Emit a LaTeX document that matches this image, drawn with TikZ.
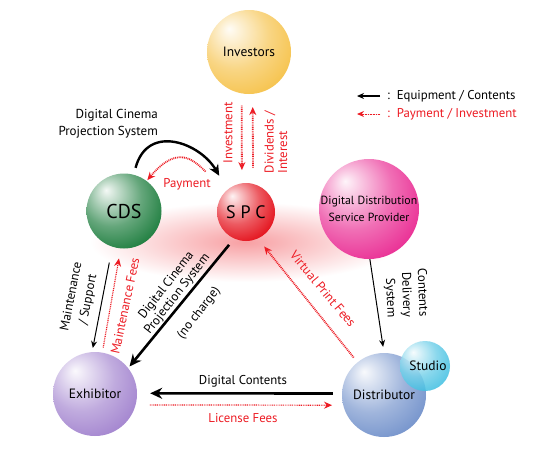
\documentclass[tikz,border=0pt]{standalone}
\usepackage{fontspec}
\setmainfont{PT Sans}
\usetikzlibrary{arrows.meta}

\definecolor{payred}{RGB}{237,28,36}
\definecolor{invcol}{RGB}{246,196,80}
\definecolor{cdscol}{RGB}{34,128,66}
\definecolor{spccol}{RGB}{228,20,30}
\definecolor{ddspcol}{RGB}{234,50,150}
\definecolor{exhcol}{RGB}{165,135,208}
\definecolor{distcol}{RGB}{120,150,205}
\definecolor{studiocol}{RGB}{60,190,225}

% sphere look, recoloured through sphcol
\colorlet{sphcol}{gray}
\pgfdeclareradialshading[sphcol]{sphere}{\pgfpoint{-12bp}{14bp}}{%
  color(0bp)=(sphcol!5!white); color(6bp)=(sphcol!25!white);
  color(20bp)=(sphcol!70!white); color(34bp)=(sphcol);
  color(52bp)=(sphcol!90!black); color(66bp)=(sphcol!80!black)}

\tikzset{
  sphere/.style={circle, inner sep=0pt, shading=sphere,
    font=\fontsize{13.5}{15}\selectfont},
  sphere color/.code={\colorlet{sphcol}{#1}},
  lbl/.style={font=\fontsize{12.8}{15}\selectfont, inner sep=0pt},
  paylbl/.style={lbl, text=payred},
  eqarrow/.style={-{Stealth[length=7pt,width=6pt]}, line width=1pt},
  eqthick/.style={-{Stealth[length=12pt,width=11pt]}, line width=2.6pt},
  paydots/.style={-{Stealth[length=8pt,width=7pt]}, draw=payred,
    line width=1.8pt, dash pattern=on 0.9pt off 0.9pt},
}

\begin{document}
\begin{tikzpicture}[x=1pt,y=-1pt]
    \useasboundingbox (0,0) rectangle (540,469);
    \fill[white] (0,0) rectangle (540,469);

    % glow under the SPC
    \shade[inner color=payred!42, outer color=white] (245,242) ellipse [x radius=155pt, y radius=40pt];

    % spheres
    \node[sphere, sphere color=invcol, minimum size=84pt] (investors) at (249,52) {Investors};
    \node[sphere, sphere color=cdscol, minimum size=75pt, font=\fontsize{20}{22}\selectfont] (cds) at (124,211) {CDS};
    \node[sphere, sphere color=spccol, minimum size=58pt, font=\fontsize{18}{20}\selectfont] (spc) at (246,212) {S P C};
    \node[sphere, sphere color=ddspcol, minimum size=100pt, align=center, font=\fontsize{11.8}{17}\selectfont] (ddsp) at (369,209) {Digital Distribution\\Service Provider};
    \node[sphere, sphere color=exhcol, minimum size=84pt] (exh) at (95,394) {Exhibitor};
    \node[sphere, sphere color=distcol, minimum size=84pt] (dist) at (384,395) {};
    \node[sphere, sphere color=studiocol, minimum size=50pt, fill opacity=0.85, text opacity=1] (studio) at (425,366) {\hspace{6pt}Studio};
    \node[lbl, font=\fontsize{13.5}{15}\selectfont] (distname) at (dist) {Distributor};

    % investors <-> SPC
    \draw[paydots, shorten <=12pt, shorten >=13pt] (investors.260) -- (spc.98);
    \draw[paydots, shorten <=16pt, shorten >=13pt] (spc.76) -- (investors.275);
    \node[paylbl, rotate=90] (investlbl) at (228,133) {Investment};
    \node[paylbl, rotate=90, align=left, font=\fontsize{12.8}{13.5}\selectfont] (dividlbl) at (276,142) {Dividends /\\Interest};

    % CDS <-> SPC
    \draw[-{Stealth[length=11pt,width=10pt]}, line width=2.4pt, shorten <=7pt, shorten >=16pt] (cds.75) to[out=75, in=120, looseness=1.45] (spc.130);
    \draw[paydots, shorten <=28pt, shorten >=1pt] (spc.135) to[out=135, in=50, looseness=1.5] (cds.53);
    \node[lbl, anchor=east, align=right, font=\fontsize{13}{17}\selectfont] (projlbl) at (158,124) {Digital Cinema\\Projection System};
    \node[paylbl] (paylabel) at (187,184) {Payment};

    % CDS <-> exhibitor
    \draw[eqarrow, shorten <=16pt, shorten >=4pt] (cds.252) -- (exh.94);
    \draw[paydots, line width=1.2pt, shorten <=5pt, shorten >=10pt] (exh.80) -- (cds.265);
    \node[lbl, rotate=79, align=center, font=\fontsize{12.8}{17}\selectfont] (maintlbl) at (80,298) {Maintenance\\/ Support};
    \node[paylbl, rotate=78] (mfeelbl) at (125,306) {Maintenance Fees};

    % SPC -> exhibitor
    \draw[eqthick, shorten <=8pt, shorten >=2pt] (spc.246) -- (exh.38);
    \node[lbl, rotate=52, align=center, font=\fontsize{12.8}{14}\selectfont] (nochargelbl) at (172,290) {Digital Cinema\\Projection System};
    \node[lbl, rotate=52] (nocharge) at (199,313) {(no charge)};

    % distributor -> SPC
    \draw[paydots, shorten <=6pt, shorten >=10pt] (dist.129) -- (spc.294);
    \node[paylbl, rotate=-50] (vpflbl) at (323,289) {Virtual Print Fees};

    % DDSP -> distributor
    \draw[eqarrow, shorten >=6pt] (ddsp.271) -- (dist.90);
    \node[lbl, rotate=-88, align=right, font=\fontsize{12.8}{16}\selectfont] (cdslbl) at (406,293) {Contents\\Delivery\\System};

    % distributor <-> exhibitor
    \draw[eqthick, shorten <=9pt, shorten >=13pt] (dist.178) -- (exh.1);
    \draw[paydots, line width=1.2pt, shorten <=14pt, shorten >=11pt] (exh.-15) -- (dist.194);
    \node[lbl] (dclbl) at (243,381) {Digital Contents};
    \node[paylbl] (lfeelbl) at (243,418) {License Fees};

    % legend
    \coordinate (lgeqtail) at (380,96);
    \coordinate (lgeqhead) at (357,96);
    \coordinate (lgpaytail) at (380,114);
    \coordinate (lgpayhead) at (357,114);
    \draw[-{Stealth[length=7pt,width=6pt]}, line width=1.2pt] (lgeqtail) -- (lgeqhead);
    \draw[-{Stealth[length=7pt,width=6pt]}, draw=payred, fill=payred, line width=1pt, dash pattern=on 0.8pt off 0.8pt] (lgpaytail) -- (lgpayhead);
    \node[lbl, anchor=west] (lgeqlbl) at (387,96) {:\ \ Equipment / Contents};
    \node[paylbl, anchor=west] (lgpaylbl) at (387,114) {:\ \ Payment / Investment};
\end{tikzpicture}
\end{document}
